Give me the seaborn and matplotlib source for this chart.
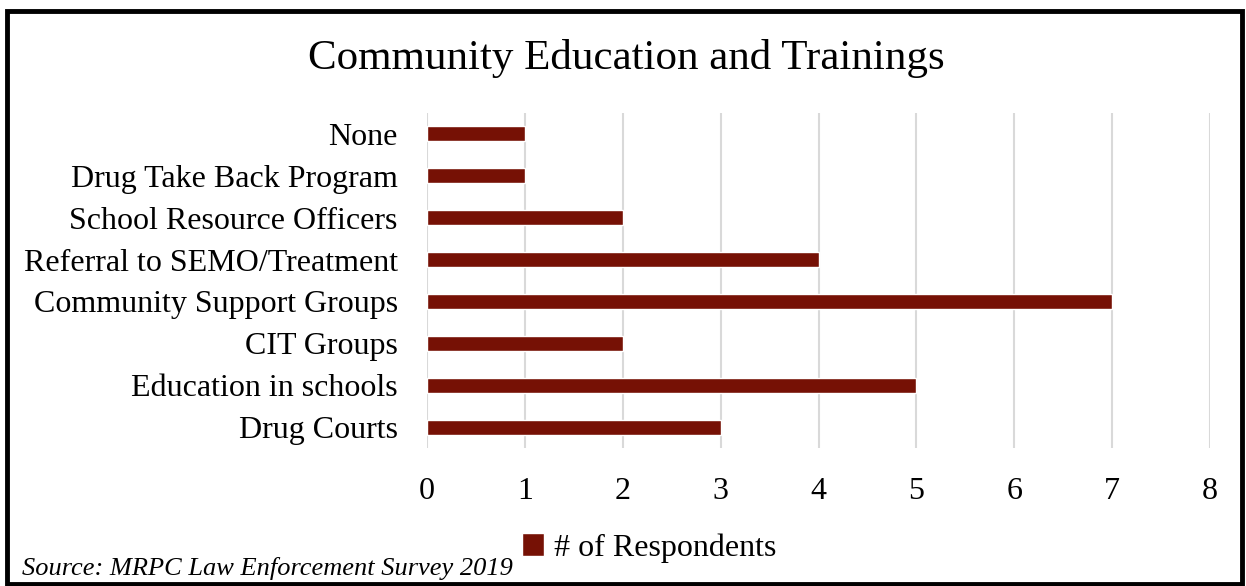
import matplotlib
matplotlib.use("Agg")
import matplotlib.pyplot as plt
import seaborn as sns
import pandas as pd
from matplotlib.patches import Rectangle

categories = [
    "None",
    "Drug Take Back Program",
    "School Resource Officers",
    "Referral to SEMO/Treatment",
    "Community Support Groups",
    "CIT Groups",
    "Education in schools",
    "Drug Courts",
]
respondents = [1, 1, 2, 4, 7, 2, 5, 3]
x_ticks = [0, 1, 2, 3, 4, 5, 6, 7, 8]
series_name = "# of Respondents"
title = "Community Education and Trainings"
source = "Source: MRPC Law Enforcement Survey 2019"

sns.set_theme(style="white")
plt.rcParams["font.family"] = ["Liberation Serif", "DejaVu Serif"]
plt.rcParams["text.color"] = "black"

df = pd.DataFrame({"category": categories, "value": respondents})

fig = plt.figure(figsize=(12.46, 5.86), dpi=100)
ax = fig.add_axes([427 / 1246, 1 - 448 / 586, (1210 - 427) / 1246, (448 - 113) / 586])

bar_color = "#761105"
sns.barplot(data=df, y="category", x="value", orient="h", color=bar_color,
            saturation=1, width=0.36, ax=ax, label=series_name, zorder=3)

ax.set_xlim(0, 8)
ax.set_ylim(7.5, -0.5)
ax.set_xticks(x_ticks)
ax.set_xticklabels([str(t) for t in x_ticks])
ax.grid(axis="x", color="#D9D9D9", linewidth=1.5, zorder=0)
ax.grid(axis="y", visible=False)
for s in ax.spines.values():
    s.set_visible(False)
ax.set_xlabel("")
ax.set_ylabel("")
ax.tick_params(axis="x", length=0, pad=21, labelsize=23, labelcolor="black")
ax.tick_params(axis="y", length=0, pad=21, labelsize=23, labelcolor="black")

handles, labels = ax.get_legend_handles_labels()
if ax.get_legend() is not None:
    ax.get_legend().remove()

fig.text(626 / 1246, 1 - 58 / 586, title, ha="center", va="center",
         fontsize=31, color="black")

leg = fig.legend(handles[:1], labels[:1], loc="center left",
                 bbox_to_anchor=(522 / 1246, 1 - 548 / 586), frameon=False,
                 fontsize=23, handlelength=0.7, handleheight=0.7, handletextpad=0.3,
                 borderpad=0, borderaxespad=0)
for t in leg.get_texts():
    t.set_color("black")

fig.text(22 / 1246, 1 - 568 / 586, source, ha="left", va="center",
         fontsize=19, fontstyle="italic", family="Liberation Serif", color="black")

# frame around the whole figure
fig.patches.append(Rectangle((0.006, 0.004), 0.991, 0.978, transform=fig.transFigure,
                             fill=False, edgecolor="black", linewidth=3.5))

fig.savefig("out.png", dpi=100)
